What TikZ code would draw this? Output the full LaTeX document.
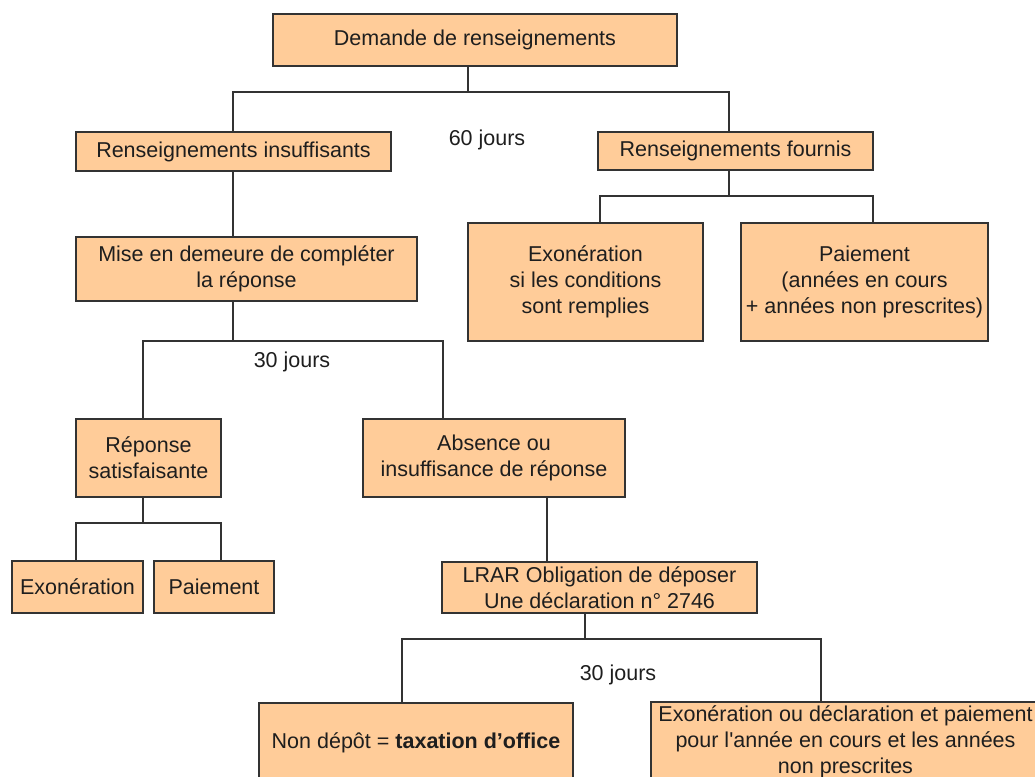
\documentclass[tikz,border=0pt]{standalone}
\usepackage{fontspec}
\setmainfont{Liberation Sans}
\definecolor{boxfill}{HTML}{FFCC99}
\definecolor{linecol}{HTML}{333333}
\definecolor{txtcol}{HTML}{1E1E1E}
\tikzset{
  box/.style={draw=linecol, line width=1.8pt, fill=boxfill, inner sep=0pt,
    align=center, text=txtcol, font=\fontsize{21.5}{26}\selectfont},
  conn/.style={draw=linecol, line width=1.8pt},
  lbl/.style={font=\fontsize{21.5}{26}\selectfont, text=txtcol, inner sep=0pt}
}
\begin{document}
\begin{tikzpicture}[x=1pt,y=-1pt]
\useasboundingbox (0,0) rectangle (1035,776);
\clip (0,0) rectangle (1035,776);

% boxes
\node[box, minimum width=404pt, minimum height=52pt] (dem) at (475,40) {Demande de renseignements};
\node[box, minimum width=315pt, minimum height=39pt] (ins) at (233.5,151.5) {Renseignements insuffisants};
\node[box, minimum width=275pt, minimum height=38pt] (fourn) at (735.5,151) {Renseignements fournis};
\node[box, minimum width=235pt, minimum height=118pt] (exoa) at (585.5,282) {Exonération\\si les conditions\\sont remplies};
\node[box, minimum width=247pt, minimum height=118pt] (paia) at (864.5,282) {Paiement\\(années en cours\\+ années non prescrites)};
\node[box, minimum width=341pt, minimum height=64pt] (mise) at (246.5,269) {Mise en demeure de compléter\\la réponse};
\node[box, minimum width=145pt, minimum height=78pt] (rep) at (148.5,458) {Réponse\\satisfaisante};
\node[box, minimum width=262pt, minimum height=78pt] (abs) at (494,458) {Absence ou\\insuffisance de réponse};
\node[box, minimum width=131pt, minimum height=52pt] (exob) at (77.5,587) {Exonération};
\node[box, minimum width=120pt, minimum height=52pt] (paib) at (214,587) {Paiement};
\node[box, minimum width=315pt, minimum height=51pt] (lrar) at (599.5,587.5) {LRAR Obligation de déposer\\Une déclaration n° 2746};
\node[box, minimum width=314pt, minimum height=80pt] (nond) at (416,743) {Non dépôt = \textbf{taxation d’office}};
\node[box, minimum width=389pt, minimum height=80pt] (exoc) at (845.5,742) {Exonération ou déclaration et paiement\\pour l\textquotesingle année en cours et les années\\non prescrites};

% labels
\node[lbl] (l60) at (487,140) {60 jours};
\node[lbl] (l30a) at (292,362) {30 jours};
\node[lbl] (l30b) at (618,675) {30 jours};

% junction coordinates
\coordinate (j1) at (468,92);
\coordinate (j1l) at (233,92);
\coordinate (j1r) at (729,92);
\coordinate (j5) at (729,196);
\coordinate (j5l) at (600,196);
\coordinate (j5r) at (873,196);
\coordinate (j2) at (233,341);
\coordinate (j2l) at (143,341);
\coordinate (j2r) at (443,341);
\coordinate (j3) at (143,523);
\coordinate (j3l) at (76,523);
\coordinate (j3r) at (221,523);
\coordinate (j6) at (547,530);
\coordinate (j4) at (585,639);
\coordinate (j4l) at (402,639);
\coordinate (j4r) at (821,639);

% connectors
\draw[conn] (j1 |- dem.south) -- (j1);
\draw[conn] (j1l |- ins.north) -- (j1l) -- (j1r) -- (j1r |- fourn.north);
\draw[conn] (j5 |- fourn.south) -- (j5);
\draw[conn] (j5l |- exoa.north) -- (j5l) -- (j5r) -- (j5r |- paia.north);
\draw[conn] (j1l |- ins.south) -- (j1l |- mise.north);
\draw[conn] (j2 |- mise.south) -- (j2);
\draw[conn] (j2l |- rep.north) -- (j2l) -- (j2r) -- (j2r |- abs.north);
\draw[conn] (j3 |- rep.south) -- (j3);
\draw[conn] (j3l |- exob.north) -- (j3l) -- (j3r) -- (j3r |- paib.north);
\draw[conn] (j6 |- abs.south) -- (j6 |- lrar.north);
\draw[conn] (j4 |- lrar.south) -- (j4);
\draw[conn] (j4l |- nond.north) -- (j4l) -- (j4r) -- (j4r |- exoc.north);
\end{tikzpicture}
\end{document}
